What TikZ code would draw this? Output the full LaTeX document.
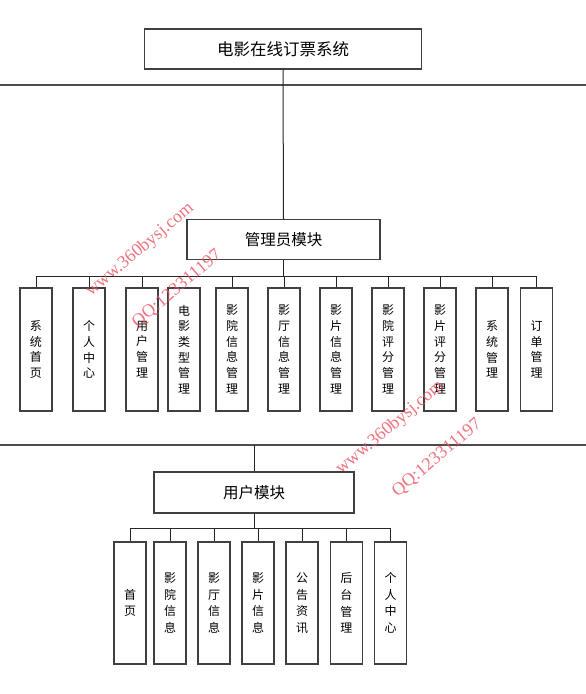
\documentclass[tikz,border=0pt]{standalone}
\usepackage{fontspec}
\newfontfamily\cjk{Noto Sans CJK SC}
\newfontfamily\wmfont{Liberation Serif}
\definecolor{wmred}{RGB}{236,80,95}
\begin{document}
\begin{tikzpicture}[x=1pt,y=-1pt,
  box/.style={draw=black!75, line width=1.2pt, fill=white, inner sep=0pt, font=\cjk\fontsize{15.5}{18}\selectfont},
  aleaf/.style={draw=black!75, line width=1.2pt, fill=white, minimum width=32pt, minimum height=123pt, inner sep=0pt, align=center, font=\cjk\fontsize{12}{15.7}\selectfont},
  uleaf/.style={aleaf, minimum height=122pt, font=\cjk\fontsize{12}{16.6}\selectfont},
  conn/.style={draw=black!85, line width=1pt},
  longline/.style={draw=black!70, line width=1.1pt},
  wm/.style={text=wmred, opacity=0.8, font=\wmfont\fontsize{18}{18}\selectfont, rotate=40, inner sep=0pt}
]
\useasboundingbox (0,0) rectangle (586,694);
\fill[white] (0,0) rectangle (586,694);

% long horizontal lines
\coordinate (l1a) at (0,85);
\coordinate (l1b) at (586,85);
\coordinate (l2a) at (0,445);
\coordinate (l2b) at (586,445);
\draw[longline] (l1a) -- (l1b);
\draw[longline] (l2a) -- (l2b);

% top
\node[box, minimum width=277pt, minimum height=40pt, font=\cjk\fontsize{16.5}{18}\selectfont] (top) at (283,49) {电影在线订票系统};

% admin module
\node[box, minimum width=193pt, minimum height=40pt] (adm) at (283.5,239.5) {管理员模块};
\draw[conn] (top.south) -- (adm.north);

\coordinate (abus) at (283.5,276);
\node[aleaf] (a1) at (36,349.5) {系\\统\\首\\页};
\node[aleaf] (a2) at (89,349.5) {个\\人\\中\\心};
\node[aleaf] (a3) at (142,349.5) {用\\户\\管\\理};
\node[aleaf] (a4) at (184,349.5) {电\\影\\类\\型\\管\\理};
\node[aleaf] (a5) at (232,349.5) {影\\院\\信\\息\\管\\理};
\node[aleaf] (a6) at (284,349.5) {影\\厅\\信\\息\\管\\理};
\node[aleaf] (a7) at (336,349.5) {影\\片\\信\\息\\管\\理};
\node[aleaf] (a8) at (388,349.5) {影\\院\\评\\分\\管\\理};
\node[aleaf] (a9) at (440,349.5) {影\\片\\评\\分\\管\\理};
\node[aleaf] (a10) at (492,349.5) {系\\统\\管\\理};
\node[aleaf] (a11) at (536.5,349.5) {订\\单\\管\\理};

\draw[conn] (adm.south) -- (abus);
\draw[conn] (a1.north |- abus) -- (a11.north |- abus);
\foreach \n in {a1,a2,a3,a5,a6,a7,a8,a9,a10,a11}
  \draw[conn] (\n.north |- abus) -- (\n.north);

% user module
\node[box, minimum width=200pt, minimum height=41pt] (usr) at (254,492.5) {用户模块};
\draw[conn] (usr.north |- l2a) -- (usr.north);

\coordinate (ubus) at (254,528);
\node[uleaf] (u1) at (130,603) {首\\页};
\node[uleaf] (u2) at (170,603) {影\\院\\信\\息};
\node[uleaf] (u3) at (214,603) {影\\厅\\信\\息};
\node[uleaf] (u4) at (258,603) {影\\片\\信\\息};
\node[uleaf] (u5) at (302,603) {公\\告\\资\\讯};
\node[uleaf] (u6) at (346.4,603) {后\\台\\管\\理};
\node[uleaf] (u7) at (390.5,603) {个\\人\\中\\心};

\draw[conn] (usr.south) -- (ubus);
\draw[conn] (u1.north |- ubus) -- (u7.north |- ubus);
\foreach \n in {u1,u2,u3,u4,u5,u6,u7}
  \draw[conn] (\n.north |- ubus) -- (\n.north);

% watermarks
\node[wm] (w1) at (140,250) {www.360bysj.com};
\node[wm] (w2) at (177,289) {QQ:123311197};
\node[wm] (w3) at (390,428) {www.360bysj.com};
\node[wm] (w4) at (437,458) {QQ:123311197};
\end{tikzpicture}
\end{document}
